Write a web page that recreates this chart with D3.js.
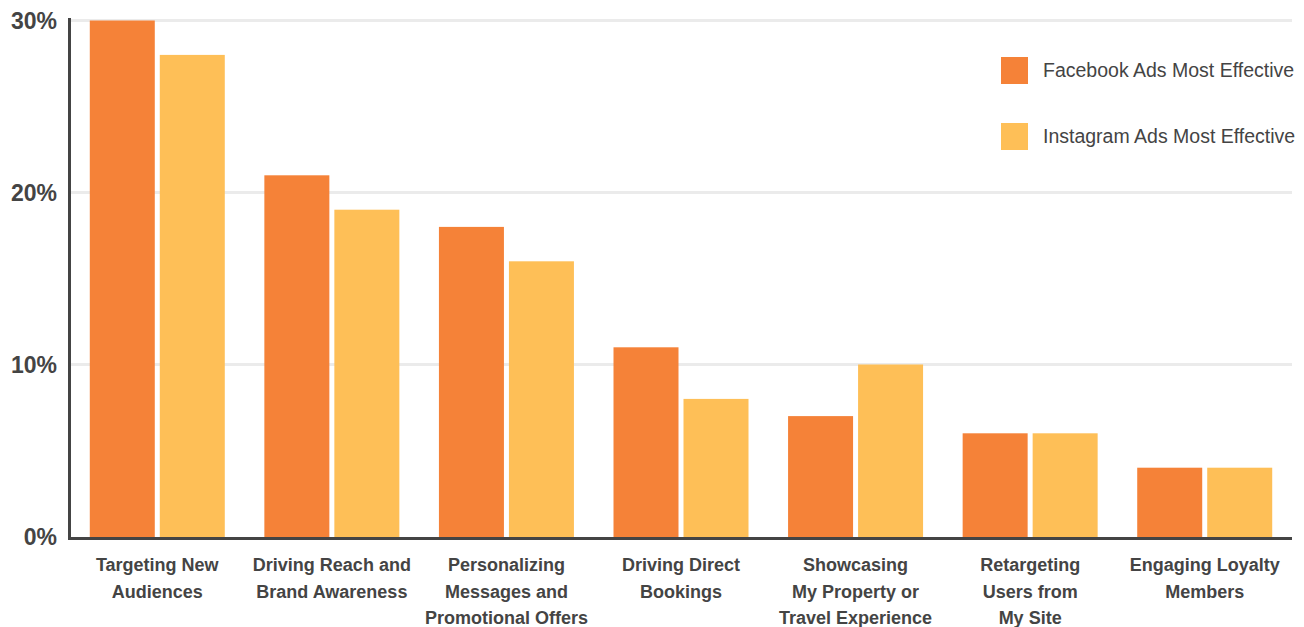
<!DOCTYPE html>
<html>
<head>
<meta charset="utf-8">
<script src="https://cdn.jsdelivr.net/npm/d3@7"></script>
<style>
  body { margin: 0; background: #fff; }
  svg { display: block; font-family: "Liberation Sans", Arial, sans-serif; }
</style>
</head>
<body>
<div id="chart"></div>
<script>
const categories = [
  ['Targeting New', 'Audiences'],
  ['Driving Reach and', 'Brand Awareness'],
  ['Personalizing', 'Messages and', 'Promotional Offers'],
  ['Driving Direct', 'Bookings'],
  ['Showcasing', 'My Property or', 'Travel Experience'],
  ['Retargeting', 'Users from', 'My Site'],
  ['Engaging Loyalty', 'Members']
]
const facebook = [30, 21, 18, 11, 7, 6, 4]
const instagram = [28, 19, 16, 8, 10, 6, 4]
const seriesNames = ['Facebook Ads Most Effective', 'Instagram Ads Most Effective']
const yTicks = [0, 10, 20, 30]

const config = {
  width: 1304,
  height: 627,
  left: 70,
  right: 1292,
  top: 20.5,
  bottom: 536.5,
  barWidth: 65,
  barGap: 5
}
const colors = ['#f58238', '#febf57']

const svg = d3.select('#chart').append('svg')
  .attr('width', config.width)
  .attr('height', config.height)

const x = d3.scaleBand()
  .domain(d3.range(categories.length))
  .range([config.left, config.right])

const y = d3.scaleLinear()
  .domain([0, 30])
  .range([config.bottom, config.top])

// grid
svg.append('g')
  .selectAll('line')
  .data(yTicks.filter(d => d > 0))
  .enter()
  .append('line')
  .attr('x1', config.left)
  .attr('x2', config.right)
  .attr('y1', d => y(d))
  .attr('y2', d => y(d))
  .attr('stroke', '#ebebeb')
  .attr('stroke-width', 3)

// bars
const groups = svg.append('g')
  .selectAll('g')
  .data(categories.map((c, i) => [facebook[i], instagram[i]]))
  .enter()
  .append('g')
  .attr('transform', (d, i) => `translate(${x(i) + x.bandwidth() / 2}, 0)`)

groups.selectAll('rect')
  .data(d => d)
  .enter()
  .append('rect')
  .attr('x', (d, j) => j === 0 ? -config.barWidth - config.barGap / 2 : config.barGap / 2)
  .attr('width', config.barWidth)
  .attr('y', d => y(d))
  .attr('height', d => config.bottom - y(d) + 1)
  .attr('fill', (d, j) => colors[j])

// y tick labels
svg.append('g')
  .selectAll('text')
  .data(yTicks)
  .enter()
  .append('text')
  .attr('x', 57)
  .attr('y', d => y(d) + 8)
  .attr('text-anchor', 'end')
  .attr('font-size', 23)
  .attr('font-weight', 'bold')
  .attr('fill', '#444')
  .text(d => d + '%')

// axes lines
svg.append('line')
  .attr('x1', 69.5).attr('x2', 69.5)
  .attr('y1', 18).attr('y2', 540)
  .attr('stroke', '#444').attr('stroke-width', 3)
svg.append('line')
  .attr('x1', 68).attr('x2', config.right)
  .attr('y1', 538.5).attr('y2', 538.5)
  .attr('stroke', '#444').attr('stroke-width', 3)

// category labels
const catLabels = svg.append('g')
  .selectAll('text')
  .data(categories)
  .enter()
  .append('text')
  .attr('text-anchor', 'middle')
  .attr('font-size', 18)
  .attr('font-weight', 'bold')
  .attr('fill', '#444')
  .attr('transform', (d, i) => `translate(${x(i) + x.bandwidth() / 2}, 571)`)

catLabels.selectAll('tspan')
  .data(d => d)
  .enter()
  .append('tspan')
  .attr('x', 0)
  .attr('y', (d, k) => k * 26.5)
  .text(d => d)

// legend
const legend = svg.append('g')
  .selectAll('g')
  .data(seriesNames)
  .enter()
  .append('g')
  .attr('transform', (d, i) => `translate(1001, ${57 + i * 66})`)

legend.append('rect')
  .attr('width', 27)
  .attr('height', 27)
  .attr('fill', (d, i) => colors[i])

legend.append('text')
  .attr('x', 42)
  .attr('y', 20)
  .attr('font-size', 19.5)
  .attr('fill', '#444')
  .text(d => d)
</script>
</body>
</html>
